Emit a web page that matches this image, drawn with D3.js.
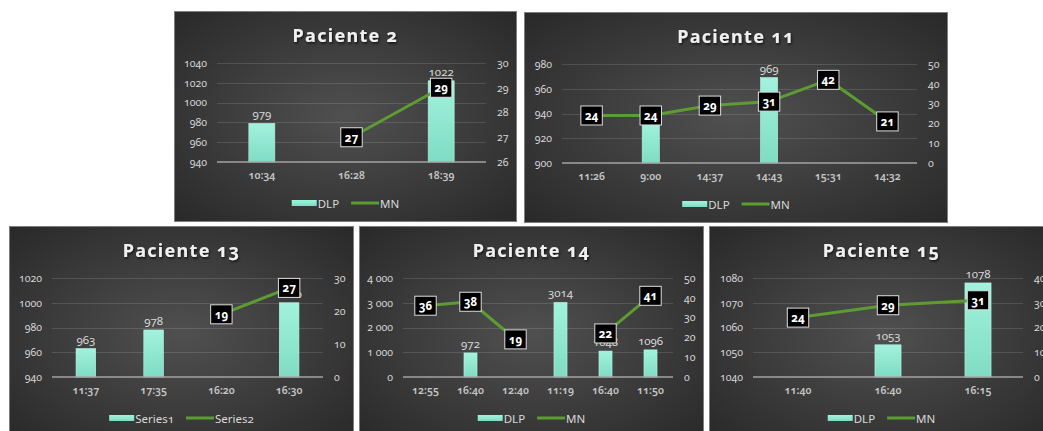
<!DOCTYPE html>
<html>
<head>
<meta charset="utf-8">
<script src="https://cdn.jsdelivr.net/npm/d3@7"></script>
<style>
  html, body { margin: 0; padding: 0; background: #ffffff; }
  svg { display: block; }
  text { font-family: "Noto Sans", Lato, sans-serif; font-feature-settings: "onum" 1; font-variant-numeric: oldstyle-nums; }
</style>
</head>
<body>
<svg id="chart" width="1043" height="431"></svg>
<script>
// Paciente 2
const p2Titulo = "Paciente 2";
const p2Horas = ["10:34", "16:28", "18:39"];
const p2DLP = [979, null, 1022];
const p2MN = [null, 27, 29];
const p2TicksDLP = [940, 960, 980, 1000, 1020, 1040];
const p2TicksMN = [26, 27, 28, 29, 30];

// Paciente 11
const p11Titulo = "Paciente 11";
const p11Horas = ["11:26", "9:00", "14:37", "14:43", "15:31", "14:32"];
const p11DLP = [null, 933, null, 969, null, null];
const p11MN = [24, 24, 29, 31, 42, 21];
const p11TicksDLP = [900, 920, 940, 960, 980];
const p11TicksMN = [0, 10, 20, 30, 40, 50];

// Paciente 13
const p13Titulo = "Paciente 13";
const p13Horas = ["11:37", "17:35", "16:20", "16:30"];
const p13DLP = [963, 978, null, 1000];
const p13MN = [null, null, 19, 27];
const p13TicksDLP = [940, 960, 980, 1000, 1020];
const p13TicksMN = [0, 10, 20, 30];

// Paciente 14
const p14Titulo = "Paciente 14";
const p14Horas = ["12:55", "16:40", "12:40", "11:19", "16:40", "11:50"];
const p14DLP = [null, 972, null, 3014, 1048, 1096];
const p14MN = [36, 38, 19, null, 22, 41];
const p14TicksDLP = [0, 1000, 2000, 3000, 4000];
const p14TicksMN = [0, 10, 20, 30, 40, 50];

// Paciente 15
const p15Titulo = "Paciente 15";
const p15Horas = ["11:40", "16:40", "16:15"];
const p15DLP = [null, 1053, 1078];
const p15MN = [24, 29, 31];
const p15TicksDLP = [1040, 1050, 1060, 1070, 1080];
const p15TicksMN = [0, 10, 20, 30, 40];

// Legend names
const nombresSeries = ["DLP", "MN"];
const nombresSeriesP13 = ["Series1", "Series2"];

// Tick formats: plain numbers, or grouped thousands with a space
const fmtPlano = d => String(d);
const fmtMiles = d3.formatLocale({ decimal: ",", thousands: " ", grouping: [3], currency: ["", ""] }).format(",d");

// Panel frames on the page
const marcos = [
  { x: 174, y: 11,  w: 343, h: 211, izq: 43 },
  { x: 524, y: 12,  w: 424, h: 211, izq: 38 },
  { x: 9,   y: 226, w: 345, h: 215, izq: 43 },
  { x: 359, y: 226, w: 345, h: 215, izq: 44 },
  { x: 709, y: 226, w: 345, h: 215, izq: 44 }
];

const graficos = [
  { titulo: p2Titulo,  horas: p2Horas,  dlp: p2DLP,  mn: p2MN,  tDLP: p2TicksDLP,  tMN: p2TicksMN,  fmt: fmtPlano, nombres: nombresSeries },
  { titulo: p11Titulo, horas: p11Horas, dlp: p11DLP, mn: p11MN, tDLP: p11TicksDLP, tMN: p11TicksMN, fmt: fmtPlano, nombres: nombresSeries },
  { titulo: p13Titulo, horas: p13Horas, dlp: p13DLP, mn: p13MN, tDLP: p13TicksDLP, tMN: p13TicksMN, fmt: fmtPlano, nombres: nombresSeriesP13 },
  { titulo: p14Titulo, horas: p14Horas, dlp: p14DLP, mn: p14MN, tDLP: p14TicksDLP, tMN: p14TicksMN, fmt: fmtMiles, nombres: nombresSeries },
  { titulo: p15Titulo, horas: p15Horas, dlp: p15DLP, mn: p15MN, tDLP: p15TicksDLP, tMN: p15TicksMN, fmt: fmtPlano, nombres: nombresSeries }
];

const svg = d3.select("#chart");
const defs = svg.append("defs");

// Dark radial background of each panel
const fondo = defs.append("radialGradient").attr("id", "fondo")
  .attr("cx", "50%").attr("cy", "50%").attr("r", "72%");
fondo.append("stop").attr("offset", "0%").attr("stop-color", "#505050");
fondo.append("stop").attr("offset", "100%").attr("stop-color", "#282828");

// Mint bar fill
const barra = defs.append("linearGradient").attr("id", "barra")
  .attr("x1", 0).attr("y1", 0).attr("x2", 0).attr("y2", 1);
barra.append("stop").attr("offset", "0%").attr("stop-color", "#a2f2dd");
barra.append("stop").attr("offset", "100%").attr("stop-color", "#7fdcc3");

// Soft shadow under titles
const sombra = defs.append("filter").attr("id", "sombra")
  .attr("x", "-10%").attr("y", "-30%").attr("width", "130%").attr("height", "170%");
sombra.append("feDropShadow").attr("dx", 1).attr("dy", 1.5).attr("stdDeviation", 1)
  .attr("flood-color", "#000").attr("flood-opacity", 0.7);

const VERDE = "#5c9c32";

function dibujar(cfg, m) {
  const g = svg.append("g").attr("transform", `translate(${m.x},${m.y})`);

  g.append("rect")
    .attr("x", 0.5).attr("y", 0.5)
    .attr("width", m.w - 1).attr("height", m.h - 1)
    .attr("fill", "url(#fondo)")
    .attr("stroke", "#7d7d7d").attr("stroke-width", 1);

  const x0 = m.izq, x1 = m.w - 31, yTop = 52, yBot = 151;
  const idx = d3.range(cfg.horas.length);
  const x = d3.scaleBand().domain(idx).range([x0, x1]);
  const yL = d3.scaleLinear().domain(d3.extent(cfg.tDLP)).range([yBot, yTop]);
  const yR = d3.scaleLinear().domain(d3.extent(cfg.tMN)).range([yBot, yTop]);
  const bw = x.bandwidth() * 0.29;
  const cx = i => x(i) + x.bandwidth() / 2;

  // Title
  g.append("text")
    .attr("x", m.w / 2).attr("y", 24)
    .attr("text-anchor", "middle").attr("dominant-baseline", "central")
    .attr("font-size", 18).attr("font-weight", 700)
    .attr("letter-spacing", "1.3px")
    .attr("fill", "#f0f0f0")
    .attr("filter", "url(#sombra)")
    .text(cfg.titulo);

  // Gridlines on the DLP scale
  g.append("g").selectAll("line")
    .data(cfg.tDLP.filter(t => t !== cfg.tDLP[0]))
    .join("line")
    .attr("x1", x0).attr("x2", x1)
    .attr("y1", d => Math.round(yL(d)) + 0.5).attr("y2", d => Math.round(yL(d)) + 0.5)
    .attr("stroke", "#ffffff").attr("stroke-opacity", 0.13);

  // Left axis (DLP)
  const ejeL = g.append("g").attr("transform", `translate(${x0 - 10},0)`)
    .call(d3.axisLeft(yL).tickValues(cfg.tDLP).tickFormat(cfg.fmt).tickSize(0).tickPadding(0));
  // Right axis (MN)
  const ejeR = g.append("g").attr("transform", `translate(${x1 + 11},0)`)
    .call(d3.axisRight(yR).tickValues(cfg.tMN).tickFormat(fmtPlano).tickSize(0).tickPadding(0));
  [ejeL, ejeR].forEach(e => {
    e.select(".domain").remove();
    e.selectAll("text").attr("font-size", 10.5).attr("fill", "#d6d6d6")
      .attr("font-family", null);
  });

  // Category axis
  const ejeX = g.append("g").attr("transform", `translate(0,${yBot})`)
    .call(d3.axisBottom(x).tickFormat(i => cfg.horas[i]).tickSize(0).tickPadding(10));
  ejeX.select(".domain").remove();
  ejeX.selectAll("text").attr("font-size", 10.5).attr("font-weight", 600)
    .attr("fill", "#c4c4c4").attr("font-family", null);

  // Bars (DLP)
  const conDLP = idx.filter(i => cfg.dlp[i] != null);
  g.append("g").selectAll("rect")
    .data(conDLP)
    .join("rect")
    .attr("x", i => cx(i) - bw / 2)
    .attr("y", i => yL(cfg.dlp[i]))
    .attr("width", bw)
    .attr("height", i => yBot - yL(cfg.dlp[i]))
    .attr("fill", "url(#barra)")
    .attr("stroke", "#b8f5e5").attr("stroke-width", 0.6);

  // Baseline
  g.append("line")
    .attr("x1", x0).attr("x2", x1)
    .attr("y1", yBot).attr("y2", yBot)
    .attr("stroke", "#a3a3a3").attr("stroke-width", 1.6);

  // DLP value labels
  g.append("g").selectAll("text")
    .data(conDLP)
    .join("text")
    .attr("x", i => cx(i))
    .attr("y", i => yL(cfg.dlp[i]) - 5)
    .attr("text-anchor", "middle")
    .attr("font-size", 11.5).attr("fill", "#d9d9d9")
    .text(i => cfg.dlp[i]);

  // MN line
  const linea = d3.line()
    .defined(i => cfg.mn[i] != null)
    .x(i => cx(i))
    .y(i => yR(cfg.mn[i]));
  g.append("path")
    .attr("d", linea(idx))
    .attr("fill", "none")
    .attr("stroke", VERDE).attr("stroke-width", 3)
    .attr("stroke-linecap", "round").attr("stroke-linejoin", "round");

  // MN value boxes
  const conMN = idx.filter(i => cfg.mn[i] != null);
  const cajas = g.append("g").selectAll("g")
    .data(conMN)
    .join("g")
    .attr("transform", i => `translate(${cx(i)},${yR(cfg.mn[i])})`);
  cajas.append("rect")
    .attr("fill", "#000000").attr("stroke", "#dedede").attr("stroke-width", 1);
  const textos = cajas.append("text")
    .attr("text-anchor", "middle").attr("dominant-baseline", "central")
    .attr("font-size", 11.5).attr("font-weight", 700).attr("fill", "#ffffff")
    .text(i => cfg.mn[i]);
  textos.each(function () {
    const w = Math.max(20, this.getComputedTextLength() + 8);
    d3.select(this.parentNode).select("rect")
      .attr("x", -w / 2).attr("y", -9.5).attr("width", w).attr("height", 19);
  });

  // Legend
  const ley = g.append("g");
  ley.append("rect").attr("x", 0).attr("y", -3).attr("width", 25).attr("height", 6)
    .attr("fill", "url(#barra)");
  const t1 = ley.append("text").attr("x", 26).attr("y", 0).attr("dominant-baseline", "central")
    .attr("font-size", 11.5).attr("fill", "#d9d9d9").text(cfg.nombres[0]);
  const w1 = t1.node().getComputedTextLength();
  const lx = 26 + w1 + 12;
  ley.append("line").attr("x1", lx).attr("x2", lx + 28).attr("y1", 0).attr("y2", 0)
    .attr("stroke", VERDE).attr("stroke-width", 3);
  const t2 = ley.append("text").attr("x", lx + 29).attr("y", 0).attr("dominant-baseline", "central")
    .attr("font-size", 11.5).attr("fill", "#d9d9d9").text(cfg.nombres[1]);
  const total = lx + 29 + t2.node().getComputedTextLength();
  ley.attr("transform", `translate(${m.w / 2 - total / 2},192)`);
}

graficos.forEach((cfg, k) => dibujar(cfg, marcos[k]));
</script>
</body>
</html>
